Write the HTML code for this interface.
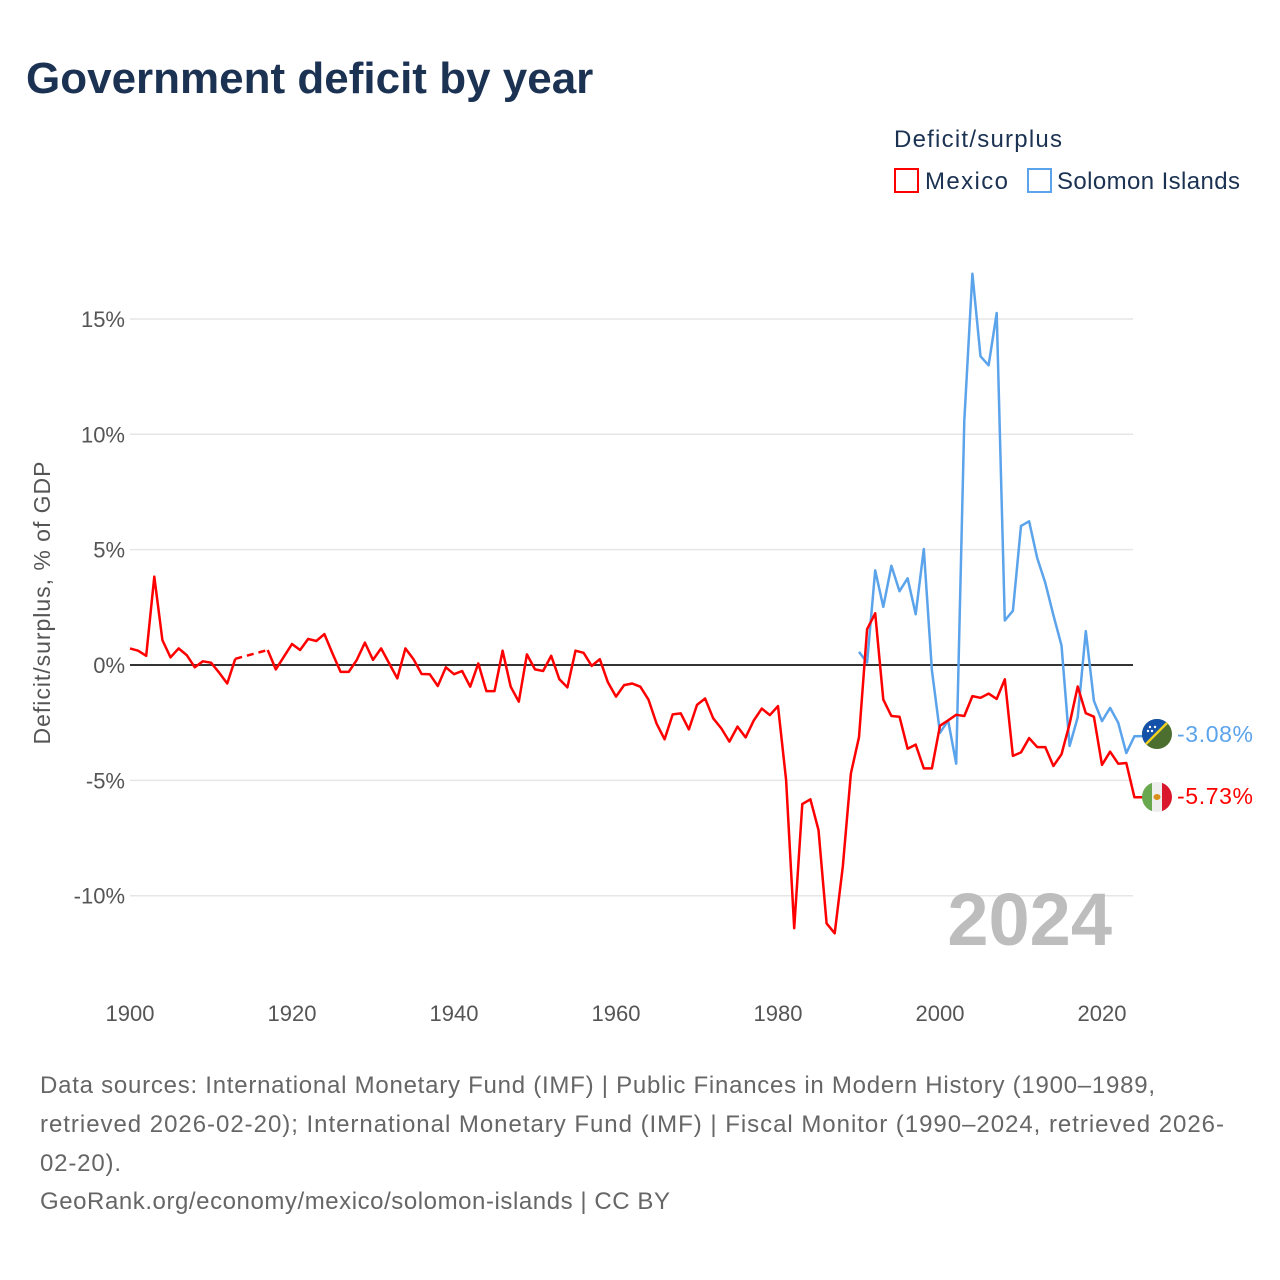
<!DOCTYPE html>
<html><head><meta charset="utf-8">
<style>
body{margin:0;background:#fff;width:1280px;height:1280px;overflow:hidden;font-family:"Liberation Sans",sans-serif}
svg{position:absolute;left:0;top:0}
</style></head><body>
<svg id="chart" width="1280" height="1280">
<text x="26" y="93" font-size="44" font-weight="bold" fill="#1b3252">Government deficit by year</text>
<text x="894" y="147" font-size="24" fill="#1b3252" textLength="168" lengthAdjust="spacing">Deficit/surplus</text>
<g><rect x="895" y="169" width="23" height="23" fill="none" stroke="#f00" stroke-width="2"/><text x="925" y="189" font-size="24" fill="#1b3252" textLength="83" lengthAdjust="spacing">Mexico</text></g>
<g><rect x="1028" y="169" width="23" height="23" fill="none" stroke="#5ba3eb" stroke-width="2"/><text x="1057" y="189" font-size="24" fill="#1b3252" textLength="183" lengthAdjust="spacing">Solomon Islands</text></g>
<g id="grid"></g>
<text transform="translate(50,603) rotate(-90)" text-anchor="middle" font-size="23" fill="#555" textLength="283" lengthAdjust="spacing">Deficit/surplus, % of GDP</text>
<text x="1112" y="945" text-anchor="end" font-size="74" font-weight="bold" fill="#bdbdbd">2024</text>
<g id="series"></g>
<g>
<clipPath id="c1"><circle cx="1157" cy="734" r="15"/></clipPath>
<g clip-path="url(#c1)"><rect x="1140" y="718" width="34" height="34" fill="#4c6e2f"/><polygon points="1140,718 1174,718 1140,752" fill="#1451a8"/><line x1="1174" y1="716" x2="1140" y2="750" stroke="#f4d21a" stroke-width="2.5"/><circle cx="1150" cy="727" r="1.2" fill="#fff"/><circle cx="1155" cy="727" r="1.2" fill="#fff"/><circle cx="1152" cy="731" r="1.2" fill="#fff"/><circle cx="1148" cy="731" r="1.2" fill="#fff"/></g></g>
<text x="1177" y="742" font-size="23" fill="#5ba3eb" textLength="76" lengthAdjust="spacing">-3.08%</text>
<g>
<clipPath id="c2"><circle cx="1157" cy="797" r="15"/></clipPath>
<g clip-path="url(#c2)"><rect x="1142" y="782" width="10" height="30" fill="#6aa84f"/><rect x="1152" y="782" width="10" height="30" fill="#eee"/><rect x="1162" y="782" width="10" height="30" fill="#d9162b"/><ellipse cx="1157" cy="797" rx="3.5" ry="3" fill="#d9901a"/></g></g>
<text x="1177" y="804" font-size="23" fill="#f00" textLength="76" lengthAdjust="spacing">-5.73%</text>
<g font-size="24" fill="#666">
<text x="40" y="1093" textLength="1115" lengthAdjust="spacing">Data sources: International Monetary Fund (IMF) | Public Finances in Modern History (1900–1989,</text>
<text x="40" y="1132" textLength="1184" lengthAdjust="spacing">retrieved 2026-02-20); International Monetary Fund (IMF) | Fiscal Monitor (1990–2024, retrieved 2026-</text>
<text x="40" y="1171" textLength="81" lengthAdjust="spacing">02-20).</text>
<text x="40" y="1209" textLength="630" lengthAdjust="spacing">GeoRank.org/economy/mexico/solomon-islands | CC BY</text>
</g>
</svg>
<script>
const yTicks=[15,10,5,0,-5,-10];
const xTicks=[1900,1920,1940,1960,1980,2000,2020];
const mexicoStart=1900;
const mexicoValues=[0.72,0.62,0.40,3.83,1.08,0.33,0.72,0.43,-0.1,0.16,0.1,-0.33,-0.8,0.27,null,null,null,0.65,-0.19,0.36,
0.91,0.65,1.13,1.04,1.34,0.5,-0.3,-0.3,0.22,0.97,0.22,0.72,0.07,-0.58,0.72,0.25,-0.39,-0.4,-0.91,-0.1,
-0.4,-0.26,-0.94,0.07,-1.13,-1.13,0.62,-0.94,-1.59,0.46,-0.19,-0.26,0.4,-0.61,-0.97,0.62,0.53,-0.04,0.25,-0.75,
-1.37,-0.87,-0.8,-0.94,-1.49,-2.53,-3.22,-2.14,-2.1,-2.79,-1.73,-1.45,-2.31,-2.75,-3.32,-2.67,-3.14,-2.41,-1.89,-2.17,
-1.78,-4.98,-11.41,-6.03,-5.82,-7.15,-11.2,-11.63,-8.74,-4.7,-3.13,1.55,2.24,-1.5,-2.21,-2.24,-3.63,-3.45,-4.48,-4.48,
-2.63,-2.4,-2.16,-2.21,-1.35,-1.42,-1.24,-1.47,-0.62,-3.94,-3.79,-3.17,-3.56,-3.56,-4.38,-3.87,-2.55,-0.93,-2.09,-2.24,
-4.33,-3.76,-4.28,-4.25,-5.73,-5.73];
const solomonStart=1990;
const solomonValues=[0.57,0.11,4.1,2.52,4.3,3.2,3.76,2.2,5.03,-0.23,-2.94,-2.4,-4.28,10.59,16.96,13.38,12.99,15.26,1.93,2.35,
6.03,6.23,4.64,3.56,2.16,0.85,-3.51,-2.27,1.47,-1.55,-2.43,-1.86,-2.5,-3.82,-3.09,-3.08];
const NS='http://www.w3.org/2000/svg';
const X=yr=>130+(yr-1900)*8.1;
const Y=v=>665-v*23.07;
function mk(tag,attrs,parent){const e=document.createElementNS(NS,tag);for(const k in attrs)e.setAttribute(k,attrs[k]);parent.appendChild(e);return e;}
const grid=document.getElementById('grid');
yTicks.forEach(t=>{
  const l=mk('line',{x1:130,x2:1133,y1:Y(t),y2:Y(t),stroke:t===0?'#333':'#e6e6e6','stroke-width':t===0?2:1.5},grid);
  
  
  const tx=mk('text',{x:125,y:Y(t)+8,'text-anchor':'end','font-size':22,fill:'#555'},grid);
  tx.textContent=t+'%';
  
  
});
xTicks.forEach(t=>{
  const tx=mk('text',{x:X(t),y:1021,'text-anchor':'middle','font-size':22,fill:'#555'},grid);
  tx.textContent=t;
  
  
});
const sg=document.getElementById('series');
function draw(start,vals,color,name){
  let d='',dd='',last=null,gap=false;
  vals.forEach((v,i)=>{
    if(v===null){gap=true;return;}
    const p=[X(start+i).toFixed(1),Y(v).toFixed(1)];
    if(last===null)d+='M'+p;
    else if(gap){d+='M'+p;dd+='M'+last+'L'+p;}
    else d+='L'+p;
    last=p;gap=false;
  });
  const pth=mk('path',{d:d,fill:'none',stroke:color,'stroke-width':2.5,'stroke-linejoin':'round'},sg);
  
  
  if(dd){const g=mk('path',{d:dd,fill:'none',stroke:color,'stroke-width':2.5,'stroke-dasharray':'7 5'},sg);
  
  }
}
draw(solomonStart,solomonValues,'#5ba3eb','solomon-islands');
draw(mexicoStart,mexicoValues,'#ff0000','mexico');
</script>
</body></html>
